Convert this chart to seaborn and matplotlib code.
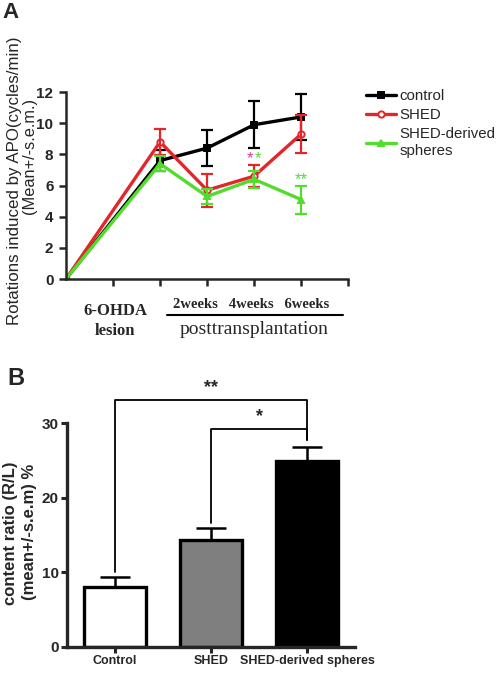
import numpy as np
import pandas as pd
import seaborn as sns
import matplotlib.pyplot as plt
from matplotlib.lines import Line2D

# panel A data: rotations after APO (mean, s.e.m.)
timepoints = [0, 2, 3, 4, 5]
control_mean = [0, 7.6, 8.4, 9.9, 10.4]
control_sem = [0, 0.7, 1.15, 1.5, 1.5]
shed_mean = [0, 8.8, 5.7, 6.6, 9.3]
shed_sem = [0, 0.85, 1.05, 0.7, 1.2]
sphere_mean = [0, 7.4, 5.3, 6.4, 5.1]
sphere_sem = [0, 0.5, 0.5, 0.55, 0.9]
week_labels = ['2weeks', '4weeks', '6weeks']

# panel B data: content ratio
bar_groups = ['Control', 'SHED', 'SHED-derived spheres']
bar_mean = [8.0, 14.3, 24.9]
bar_sem = [1.4, 1.6, 2.0]

sns.set_theme(style='ticks')
plt.rcParams['font.family'] = ['Liberation Sans', 'DejaVu Sans']
serif = ['Liberation Serif', 'DejaVu Serif']

fig = plt.figure(figsize=(4.96, 6.74), dpi=100)

# ---------- panel A ----------
axA = fig.add_axes([0.133, 0.586, 0.569, 0.2775])
red = '#e3262b'
green = '#52dc2c'
series = [
    ('control', control_mean, control_sem, 'black', 's', 'black'),
    ('SHED', shed_mean, shed_sem, red, 'o', 'white'),
    ('SHED-derived\nspheres', sphere_mean, sphere_sem, green, '^', green),
]
for name, mean, sem, col, mk, face in series:
    df = pd.DataFrame({'t': timepoints, 'v': mean})
    sns.lineplot(data=df, x='t', y='v', ax=axA, color=col, lw=2.4,
                 marker=mk, markersize=4.5, markerfacecolor=face,
                 markeredgecolor=col, markeredgewidth=1.4, label=name)
    t = np.array(timepoints)[1:]
    axA.errorbar(t, np.array(mean)[1:], yerr=np.array(sem)[1:], fmt='none',
                 ecolor=col, elinewidth=1.6, capsize=4.5, capthick=1.6)

axA.set_xlim(0, 6)
axA.set_ylim(0, 12)
axA.set_xticks(range(1, 7))
axA.set_xticklabels([])
axA.set_yticks(range(0, 13, 2))
axA.set_yticklabels([str(v) for v in range(0, 13, 2)], fontweight='bold', fontsize=11)
axA.tick_params(direction='out', length=5, width=1.8, pad=4)
for s in ['top', 'right']:
    axA.spines[s].set_visible(False)
for s in ['left', 'bottom']:
    axA.spines[s].set_linewidth(1.8)
axA.set_xlabel('')
axA.set_ylabel('')
axA.get_legend().remove()

# significance marks
axA.text(3.92, 7.45, '*', color='#e0359a', fontsize=12, ha='center')
axA.text(4.08, 7.45, '*', color=green, fontsize=12, ha='center')
axA.text(5.0, 6.1, '**', color=green, fontsize=12, ha='center')

handles, labels = axA.get_legend_handles_labels()
labels = [s[0] for s in series]
fig.legend(handles[:3], labels, loc='upper left', bbox_to_anchor=(0.726, 0.877),
           frameon=False, fontsize=10.8, handlelength=2.0, handletextpad=0.25,
           labelspacing=0.35, borderaxespad=0)

fig.text(0.03, 0.732, 'Rotations induced by APO(cycles/min)', rotation=90,
         ha='center', va='center', fontsize=12.2)
fig.text(0.059, 0.769, '(Mean+/-s.e.m.)', rotation=90, ha='center', va='center',
         fontsize=11.8)

# x labels of panel A
fig.text(115 / 496, 1 - 311 / 674, '6-OHDA', family=serif, fontweight='bold',
         fontsize=12, ha='center', va='center')
fig.text(115 / 496, 1 - 331 / 674, 'lesion', family=serif, fontweight='bold',
         fontsize=12, ha='center', va='center')
fig.text(251 / 496, 1 - 304 / 674, '   '.join(week_labels), family=serif,
         fontweight='bold', fontsize=10.5, ha='center', va='center')
fig.add_artist(Line2D([167 / 496, 343 / 496], [1 - 315.5 / 674] * 2,
                      color='black', lw=1.5, transform=fig.transFigure))
fig.text(254 / 496, 1 - 329 / 674, 'posttransplantation', family=serif,
         fontsize=14, ha='center', va='center')

fig.text(0.004, 0.982, 'A', fontsize=16, fontweight='bold', va='center')

# ---------- panel B ----------
axB = fig.add_axes([0.135, 0.0405, 0.581, 0.3754])
dfB = pd.DataFrame({'group': bar_groups, 'value': bar_mean})
sns.barplot(data=dfB, x='group', y='value', hue='group',
            palette=['white', '#7f7f7f', 'black'], edgecolor='black',
            linewidth=2.4, width=0.65, errorbar=None, legend=False, ax=axB)
axB.errorbar(range(3), bar_mean, yerr=[[0] * 3, bar_sem], fmt='none',
             ecolor='black', elinewidth=1.8, capsize=11, capthick=1.8)

axB.set_xlim(-0.5, 2.5)
axB.set_ylim(0, 34)
axB.set_yticks([0, 10, 20, 30])
axB.set_yticklabels(['0', '10', '20', '30'], fontweight='bold', fontsize=11)
axB.set_xticks(range(3))
axB.set_xticklabels(bar_groups, fontweight='bold', fontsize=9)
axB.tick_params(direction='out', length=4, width=2.2, pad=2)
for s in ['top', 'right']:
    axB.spines[s].set_visible(False)
for s in ['left', 'bottom']:
    axB.spines[s].set_linewidth(2.4)
axB.spines['left'].set_bounds(0, 30)
axB.set_xlabel('')
axB.set_ylabel('')

# significance brackets
tops = [m + e for m, e in zip(bar_mean, bar_sem)]
def bracket(i, j, level, label):
    axB.plot([i, i, j, j], [tops[i] + 0.7, level, level, tops[j] + 0.9],
             color='black', lw=1.3, clip_on=False)
    axB.text((i + j) / 2, level + 0.6, label, ha='center', va='bottom',
             fontsize=13, fontweight='bold')
bracket(0, 2, 33.1, '**')
bracket(1, 2, 29.2, '*')

fig.text(0.022, 0.209, 'content ratio (R/L)', rotation=90, ha='center',
         va='center', fontweight='bold', fontsize=12)
fig.text(0.06, 0.211, '(mean+/-s.e.m) %', rotation=90, ha='center',
         va='center', fontweight='bold', fontsize=12)

fig.text(0.014, 0.438, 'B', fontsize=17, fontweight='bold', va='center')

fig.savefig('out.png', dpi=100)
